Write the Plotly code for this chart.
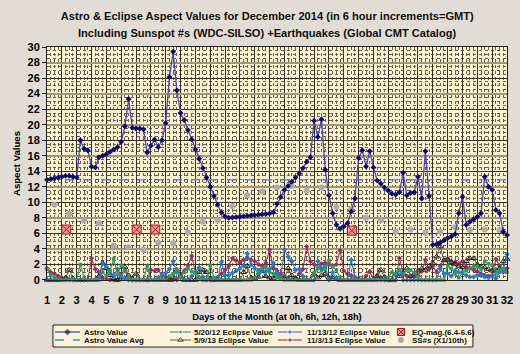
import numpy as np
import plotly.graph_objects as go

# ---- data -------------------------------------------------------------
# time axis: day of month in 6-hour steps (0h, 6h, 12h, 18h)
days = np.arange(1.0, 32.001, 0.25)

astro_value = [
    12.9, 13.0, 13.1, 13.2, 13.3, 13.4, 13.4, 13.3,   # day 1-2
    13.2, 18.0, 16.9, 16.7,                           # day 3
    14.6, 14.5, 15.8, 16.0,                           # day 4
    16.2, 16.5, 16.8, 17.1,                           # day 5
    17.8, 19.8, 23.3, 19.6,                           # day 6
    19.5, 19.5, 19.4, 16.4,                           # day 7
    17.3, 18.1, 17.1, 18.0,                           # day 8
    20.2, 26.1, 29.4, 24.4,                           # day 9
    21.5, 20.6, 19.3, 18.1,                           # day 10
    16.8, 15.6, 14.4, 13.2,                           # day 11
    12.0, 10.8, 9.7, 8.7,                             # day 12
    8.2, 8.0, 8.05, 8.1,                              # day 13
    8.15, 8.2, 8.25, 8.3,                             # day 14
    8.35, 8.4, 8.45, 8.5,                             # day 15
    8.55, 8.7, 9.8, 10.7,                             # day 16
    11.6, 12.1, 12.65, 13.2,                          # day 17
    13.7, 14.4, 15.2, 15.8,                           # day 18
    20.5, 18.4, 20.7, 14.2,                           # day 19
    10.9, 8.6, 7.1, 6.6,                              # day 20
    6.9, 7.3, 8.8, 10.5,                              # day 21
    15.7, 16.7, 14.6, 16.6,                           # day 22
    14.5, 12.8, 12.4, 11.9,                           # day 23
    11.5, 11.1, 11.0, 11.3,                           # day 24
    13.8, 10.9, 11.2, 11.3,                           # day 25
    13.3, 10.5, 16.6, 10.8,                           # day 26
    4.5, 4.6, 4.8, 5.1,                               # day 27
    5.4, 5.6, 5.9, 8.6,                               # day 28
    10.7, 7.1, 7.5, 7.8,                              # day 29
    8.15, 8.6, 13.3, 12.0,                            # day 30
    11.6, 9.0, 8.6, 6.2,                              # day 31
    5.8,                                              # day 32
]

astro_avg = [12.9] * len(days)

ecl_5_20_12 = [
    1.4, 0.6, 0.3, 0.1,  0, 0, 0, 0,  0, 2.0, 0.2, 0,  0, 0, 0, 1.0,
    0.5, 1.2, 2.7, 0.7,  1.9, 1.2, 0.3, 0,  0, 0, 0, 1.8,  0, 0, 0, 0,
    0, 0.5, 0.8, 1.2,  0.4, 1.0, 1.5, 1.1,  0.9, 0.3, 0, 0,  1.9, 0.3, 0, 0,
    0, 0, 0, 0,  0, 0, 0, 0,  0.3, 1.2, 1.5, 1.7,  1.0, 0.8, 0.3, 0.1,
    0, 0, 0, 0,  0, 0, 0, 0,  0.9, 1.6, 1.2, 1.4,  2.5, 1.7, 1.3, 0.3,
    0, 0, 0, 0,  0, 0, 0, 0,  0, 0, 0, 0,  0.3, 1.0, 0.8, 1.3,
    0.8, 1.3, 1.3, 0.9,  0.4, 0, 0, 0,  0, 0, 0, 0,  1.8, 1.5, 0.8, 0.3,
    1.0, 1.2, 1.5, 1.8,  1.7, 1.4, 2.4, 2.1,  1.9, 0.8, 1.3, 1.5,  1.0,
]

ecl_5_9_13 = [
    0, 0, 0, 0,  0, 0.3, 1.3, 0.2,  0, 0, 0, 0,  0, 0, 0.5, 2.2,
    1.5, 0.6, 0.2, 0,  0.3, 1.7, 0.6, 0.2,  0.8, 0, 0, 0,  0, 0, 0, 0,
    0, 0, 0.3, 1.3,  0.5, 0, 0, 0,  0, 1.0, 1.3, 1.0,  0.2, 0, 0, 0,
    0, 0, 0, 0,  0, 1.0, 1.8, 0.3,  0.2, 0.4, 1.2, 0.5,  0.3, 0.2, 0.6, 0.3,
    0.2, 1.5, 0.6, 0.2,  0, 0, 0, 0,  0.8, 0.3, 0.6, 0.8,  0.3, 0.3, 0.1, 0,
    0, 0, 0, 0,  0, 0, 0, 0,  0, 0.5, 1.3, 0.4,  0, 0, 0.8, 0.5,
    0.8, 1.5, 0.5, 0.8,  1.2, 1.5, 1.3, 1.8,  2.2, 3.0, 4.3, 2.5,  2.6, 2.3, 2.0, 1.8,
    1.6, 2.4, 2.8, 2.8,  2.0, 1.7, 1.6, 1.4,  1.2, 1.3, 1.5, 2.4,  2.7,
]

ecl_11_13_12 = [
    0, 0, 0, 0,  0, 0, 0, 0,  0, 0, 0, 0,  0, 0, 0.3, 2.1,
    1.7, 1.0, 0.6, 1.4,  0.5, 0.2, 0, 0,  0, 0, 0, 0,  0, 0, 0.3, 0.6,
    0.9, 1.4, 2.4, 1.0,  0.3, 0, 0, 0.5,  1.0, 1.6, 0.4, 0,  0, 0, 0, 2.3,
    0.6, 0.6, 0.9, 1.2,  1.5, 1.8, 3.4, 2.0,  1.5, 0.8, 1.2, 1.1,  1.4, 2.2, 0.8, 0.3,
    3.9, 3.0, 2.4, 1.3,  1.4, 0.5, 0, 0,  0, 2.4, 1.5, 1.8,  0, 1.0, 0.2, 0,
    0, 0, 2.6, 0.4,  0, 0, 0, 0,  0, 0, 0, 0,  0, 0, 0, 1.3,
    0, 0, 0, 0,  0, 0, 0, 0,  0, 0, 1.5, 0.8,  0.8, 0.5, 1.2, 1.0,
    0.9, 0.6, 0.4, 0.4,  0.6, 0.6, 0.4, 0.3,  0.5, 0.2, 1.0, 1.2,  3.3,
]

ecl_11_3_13 = [
    1.5, 1.0, 0.8, 0.5,  0.3, 0.2, 0.1, 0,  0, 0, 0, 0,  2.8, 1.4, 1.0, 0.2,
    0.2, 0, 0, 0,  0.8, 1.2, 0.4, 0,  0, 0, 0, 0,  1.3, 1.2, 1.3, 0.6,
    0.4, 0.2, 0, 0,  0.6, 1.2, 1.9, 3.1,  1.0, 0.3, 0, 0,  0, 0, 0.3, 0.8,
    1.3, 1.8, 2.8, 2.5,  2.2, 2.6, 2.8, 2.6,  2.4, 2.0, 1.8, 2.2,  3.9, 1.5, 1.2, 0.8,
    0.5, 0.2, 0.1, 0.3,  0.8, 1.4, 4.3, 2.4,  2.0, 1.6, 2.1, 2.2,  2.0, 1.8, 2.0, 3.8,
    1.2, 0.8, 0.6, 0.3,  0.2, 0, 0.5, 1.1,  0, 0.6, 0.3, 0,  0, 0, 0, 2.8,
    1.0, 0.5, 0.4, 0.4,  0.6, 1.1, 2.6, 1.4,  1.8, 1.0, 1.8, 2.6,  2.8, 2.4, 2.3, 2.1,
    2.4, 1.7, 1.5, 1.3,  1.1, 0.8, 0.6, 0.5,  0.6, 2.7, 1.8, 1.0,  1.5,
]

eq_days = [2.3, 7.05, 8.3, 21.55]
eq_mag = [6.5, 6.5, 6.5, 6.35]

ss_days = np.arange(1.5, 31.51, 1.0)
ss_tenth = [9.7, 8.5, 7.7, 7.3, 4.4, 4.2, 3.9, 4.8, 4.7, 6.1, 7.5, 7.7, 9.5,
            10.9, 11.4, 11.9, 12.1, 11.5, 11.9, 9.4, 9.2, 8.0, 7.7, 6.2, 6.5,
            6.1, 6.2, 6.8, 6.4, 6.5, 6.4]

for _s in (astro_value, ecl_5_20_12, ecl_5_9_13, ecl_11_13_12, ecl_11_3_13):
    assert len(_s) == len(days), len(_s)

x_ticks = list(range(1, 33))
y_ticks = list(range(0, 31, 2))

title_line1 = "Astro & Eclipse Aspect Values for December 2014 (in 6 hour increments=GMT)"
title_line2 = "Including Sunspot #s (WDC-SILSO) +Earthquakes (Global CMT Catalog)"
x_title = "Days of the Month (at 0h, 6h, 12h, 18h)"
y_title = "Aspect Values"

# ---- styles -----------------------------------------------------------
FONT = "Liberation Sans, Arial, sans-serif"
STYLES = {
    "Astro Value": dict(mode="lines+markers",
                        line=dict(color="#4a4aae", width=1.3),
                        marker=dict(symbol="diamond", size=4.5, color="#0b0b6e")),
    "Astro Value Avg": dict(mode="lines",
                            line=dict(color="#3d8fd6", width=1.3, dash="dash")),
    "5/20/12 Eclipse Value": dict(mode="lines+markers",
                                  line=dict(color="#2e9a5e", width=1.1),
                                  marker=dict(symbol="square", size=3.5, color="#2e9a5e")),
    "5/9/13 Eclipse Value": dict(mode="lines+markers",
                                 line=dict(color="#6e6a66", width=1.1),
                                 marker=dict(symbol="triangle-up-open", size=5,
                                             color="#222222", line=dict(width=1))),
    "11/13/12 Eclipse Value": dict(mode="lines+markers",
                                   line=dict(color="#1f78d1", width=1.1),
                                   marker=dict(symbol="diamond", size=4, color="#1f78d1")),
    "11/3/13 Eclipse Value": dict(mode="lines+markers",
                                  line=dict(color="#9b2d62", width=1.1),
                                  marker=dict(symbol="diamond", size=4, color="#9b2d62")),
    "EQ-mag.(6.4-6.6)": dict(mode="markers",
                             marker=dict(symbol="square-x", size=9, color="#f2918a",
                                         line=dict(color="#a32020", width=1))),
    "SS#s (X1/10th)": dict(mode="markers",
                           marker=dict(symbol="circle", size=6, color="#ababab")),
}

SERIES = [  # drawing order (bottom to top)
    ("11/3/13 Eclipse Value", days, ecl_11_3_13),
    ("5/9/13 Eclipse Value", days, ecl_5_9_13),
    ("11/13/12 Eclipse Value", days, ecl_11_13_12),
    ("5/20/12 Eclipse Value", days, ecl_5_20_12),
    ("SS#s (X1/10th)", ss_days, ss_tenth),
    ("EQ-mag.(6.4-6.6)", eq_days, eq_mag),
    ("Astro Value Avg", days, astro_avg),
    ("Astro Value", days, astro_value),
]

fig = go.Figure()
# invisible trace that activates the heavy every-4 grid axis
fig.add_trace(go.Scatter(x=[1], y=[0], yaxis="y3", showlegend=False,
                         mode="markers", marker=dict(opacity=0), hoverinfo="skip"))
for name, x, y in SERIES:
    fig.add_trace(go.Scatter(x=x, y=y, name=name, showlegend=False,
                             cliponaxis=False, **STYLES[name]))

# ---- legend box (drawn on its own small axis pair, pixel-like units) ---
LEG_COLS = [  # (sample line start, sample line end, text start)
    (2, 27, 29), (117, 138, 139), (225, 249, 252), (348, 348, 357)]
LEG_ROWS = [15, 7]
LEG_ITEMS = [
    ("Astro Value", 0, 0), ("Astro Value Avg", 0, 1),
    ("5/20/12 Eclipse Value", 1, 0), ("5/9/13 Eclipse Value", 1, 1),
    ("11/13/12 Eclipse Value", 2, 0), ("11/3/13 Eclipse Value", 2, 1),
    ("EQ-mag.(6.4-6.6)", 3, 0), ("SS#s (X1/10th)", 3, 1),
]
for name, c, r in LEG_ITEMS:
    x0, x1, xt = LEG_COLS[c]
    yy = LEG_ROWS[r]
    st = STYLES[name]
    if x1 > x0:
        kw = dict(mode=st["mode"], line=st["line"])
        if "marker" in st:
            m = dict(st["marker"])
            m["size"] = [0, m["size"], 0]
            kw["marker"] = m
        fig.add_trace(go.Scatter(x=[x0, (x0 + x1) / 2, x1], y=[yy, yy, yy],
                                 xaxis="x2", yaxis="y2", showlegend=False,
                                 hoverinfo="skip", cliponaxis=False, **kw))
    else:
        m = dict(st["marker"])
        m["size"] = min(m["size"], 7)
        fig.add_trace(go.Scatter(x=[x0], y=[yy], xaxis="x2", yaxis="y2",
                                 showlegend=False, hoverinfo="skip",
                                 cliponaxis=False, mode="markers", marker=m))
    fig.add_annotation(x=xt, y=yy, xref="x2", yref="y2", text=name,
                       showarrow=False, xanchor="left", yanchor="middle",
                       font=dict(family=FONT, size=7.9, weight="bold", color="#111111"))

fig.add_shape(type="rect", xref="x2 domain", yref="y2 domain", x0=0, x1=1, y0=0, y1=1,
              fillcolor="#fcf3d8", line=dict(color="#222222", width=1), layer="below")

# second title line
fig.add_annotation(x=0.479, y=1.048, xref="paper", yref="paper", text=title_line2,
                   showarrow=False, xanchor="center", yanchor="middle",
                   font=dict(family=FONT, size=11.1, weight="bold", color="#111111"))

fig.update_layout(
    width=520, height=354,
    margin=dict(l=47, r=13, t=47, b=5, autoexpand=False),
    paper_bgcolor="#e1ddd5",
    plot_bgcolor="rgba(0,0,0,0)",
    font=dict(family=FONT, color="#000000", size=10),
    showlegend=False,
    title=dict(text=title_line1, xref="paper", x=0.479, xanchor="center",
               yref="container", y=1 - 16.5 / 354, yanchor="middle",
               font=dict(family=FONT, size=11.1, weight="bold", color="#111111")),
    xaxis=dict(
        domain=[0, 1], anchor="y",
        range=[1, 32], tickvals=x_ticks, ticktext=[str(v) for v in x_ticks],
        tickangle=0, ticklabelstandoff=10,
        showgrid=True, gridcolor="#3b3226", gridwidth=1,
        minor=dict(dtick=0.25, showgrid=True, gridcolor="#6a5f4c",
                   griddash="dot", gridwidth=1),
        showline=True, linecolor="#222222", linewidth=1, mirror=True,
        ticks="", zeroline=False,
        tickfont=dict(family=FONT, size=11.2, weight="bold"),
        title=dict(text=x_title, standoff=8,
                   font=dict(family=FONT, size=9.3, weight="bold")),
    ),
    yaxis=dict(
        domain=[0.2285, 1], anchor="x",
        range=[0, 30], tickvals=y_ticks,
        showgrid=True, gridcolor="#3b3226", gridwidth=1,
        minor=dict(dtick=0.5, showgrid=True, gridcolor="#6a5f4c",
                   griddash="dot", gridwidth=1),
        showline=True, linecolor="#222222", linewidth=1, mirror=True,
        ticks="outside", ticklen=4, tickcolor="#222222", zeroline=False,
        tickfont=dict(family=FONT, size=11, weight="bold"),
        title=dict(text=y_title, standoff=5,
                   font=dict(family=FONT, size=9.6, weight="bold")),
    ),
    yaxis3=dict(
        overlaying="y", range=[0, 30], dtick=4, showgrid=True,
        gridcolor="#a39578", gridwidth=2.2, showticklabels=False,
        zeroline=False, showline=False, ticks="",
    ),
    xaxis2=dict(domain=[0.013, 0.926], anchor="y2", range=[0, 420],
                visible=False, fixedrange=True),
    yaxis2=dict(domain=[0.0066, 0.0795], anchor="x2", range=[0, 22],
                visible=False, fixedrange=True),
)
# plot-area background only behind the main chart
fig.add_shape(type="rect", xref="x domain", yref="y domain", x0=0, x1=1, y0=0, y1=1,
              fillcolor="#fcf2d2", line=dict(width=0), layer="below")

fig.write_html("out.html")
